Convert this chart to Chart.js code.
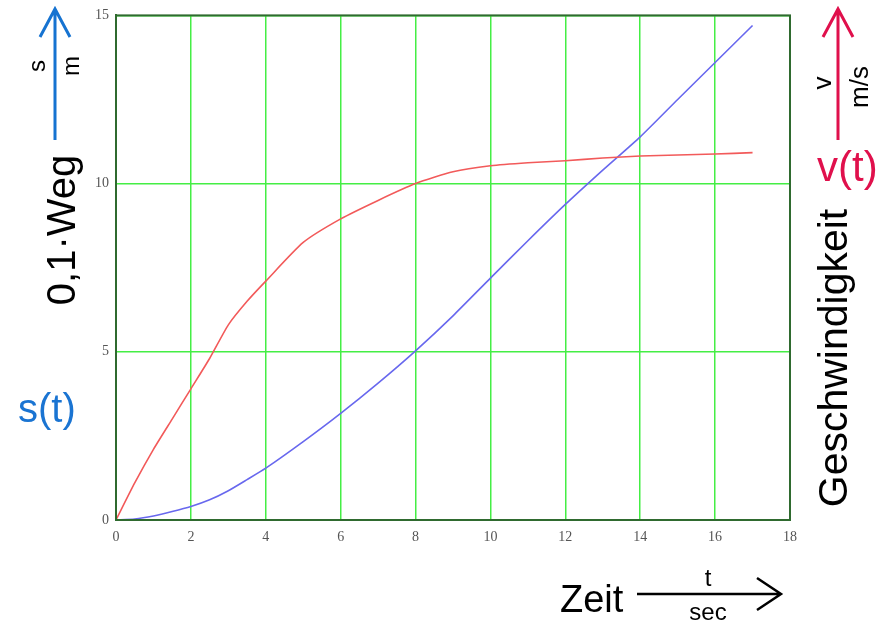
<!DOCTYPE html>
<html>
<head>
<meta charset="utf-8">
<script src="https://cdn.jsdelivr.net/npm/chart.js@4"></script>
<style>
  html, body { margin: 0; padding: 0; background: #fff; }
  #wrap { width: 885px; height: 624px; }
</style>
</head>
<body>
<div id="wrap"><canvas id="chart" width="885" height="624"></canvas></div>
<script>
// time in seconds
const times = [0, 0.5, 1, 1.5, 2, 2.5, 3, 3.5, 4, 5, 6, 7, 8, 9, 10, 11, 12, 13, 14, 15, 16, 17];
// 0,1 * distance s(t)
const weg = [0, 0.03, 0.12, 0.25, 0.4, 0.6, 0.87, 1.2, 1.54, 2.33, 3.17, 4.07, 5.03, 6.07, 7.19, 8.3, 9.38, 10.4, 11.39, 12.5, 13.6, 14.7];
// velocity v(t) in m/s
const speed = [0, 1.1, 2.1, 3.0, 3.9, 4.8, 5.8, 6.5, 7.1, 8.25, 8.95, 9.5, 10.0, 10.35, 10.53, 10.62, 10.68, 10.76, 10.82, 10.85, 10.88, 10.92];

const xTicks = [0, 2, 4, 6, 8, 10, 12, 14, 16, 18];
const yTicks = [0, 5, 10, 15];

const toPoints = vals => times.map((t, i) => ({ x: t, y: vals[i] }));

const sans = '"Liberation Sans", Arial, sans-serif';

// frame + hand drawn axis captions around the plot
const decor = {
    id: 'decor',
    afterDraw(chart) {
        const ctx = chart.ctx;
        const a = chart.chartArea;
        ctx.save();
        ctx.strokeStyle = '#2f6a2f';
        ctx.lineWidth = 2;
        ctx.strokeRect(a.left, a.top, a.right - a.left, a.bottom - a.top);

        const arrowUp = (x, y0, y1, color) => {
            ctx.strokeStyle = color;
            ctx.lineWidth = 3;
            ctx.beginPath();
            ctx.moveTo(x, y0); ctx.lineTo(x, y1);
            ctx.moveTo(x - 15, y1 + 28); ctx.lineTo(x, y1); ctx.lineTo(x + 15, y1 + 28);
            ctx.stroke();
        };
        const vtext = (txt, x, y, font, color) => {
            ctx.save();
            ctx.translate(x, y);
            ctx.rotate(-Math.PI / 2);
            ctx.font = font;
            ctx.fillStyle = color;
            ctx.textAlign = 'center';
            ctx.textBaseline = 'middle';
            ctx.fillText(txt, 0, 0);
            ctx.restore();
        };

        // left side
        arrowUp(55, 140, 9, '#1673d1');
        vtext('s', 38, 66, '24px ' + sans, '#000');
        vtext('m', 72, 66, '24px ' + sans, '#000');
        vtext('0,1\u00b7Weg', 64, 230, '40px ' + sans, '#000');
        ctx.font = '40px ' + sans;
        ctx.fillStyle = '#1a74d2';
        ctx.textAlign = 'left';
        ctx.textBaseline = 'alphabetic';
        ctx.fillText('s(t)', 18, 422);

        // right side
        arrowUp(838, 140, 9, '#e0104c');
        vtext('v', 824, 83, '26px ' + sans, '#000');
        vtext('m/s', 861, 87, '26px ' + sans, '#000');
        ctx.font = '42px ' + sans;
        ctx.fillStyle = '#e0104c';
        ctx.fillText('v(t)', 817, 181);
        vtext('Geschwindigkeit', 836, 358, '41px ' + sans, '#000');

        // bottom
        ctx.font = '38px ' + sans;
        ctx.fillStyle = '#000';
        ctx.fillText('Zeit', 560, 612);
        ctx.strokeStyle = '#000';
        ctx.lineWidth = 2.5;
        ctx.beginPath();
        ctx.moveTo(637, 594); ctx.lineTo(781, 594);
        ctx.moveTo(757, 578); ctx.lineTo(781, 594); ctx.lineTo(757, 610);
        ctx.stroke();
        ctx.font = '24px ' + sans;
        ctx.textAlign = 'center';
        ctx.fillText('t', 708, 586);
        ctx.fillText('sec', 708, 620);
        ctx.restore();
    }
};

const ctx = document.getElementById('chart').getContext('2d');
const chart = new Chart(ctx, {
    type: 'line',
    data: {
        datasets: [
            {
                label: 'v(t)',
                data: toPoints(speed),
                borderColor: '#f25a5a',
                borderWidth: 1.6,
                pointRadius: 0,
                tension: 0.2
            },
            {
                label: 's(t)',
                data: toPoints(weg),
                borderColor: '#6868ee',
                borderWidth: 1.6,
                pointRadius: 0,
                tension: 0.2
            }
        ]
    },
    options: {
        responsive: false,
        animation: false,
        layout: { padding: { left: 0, right: 95, top: 13, bottom: 0 } },
        plugins: {
            legend: { display: false },
            tooltip: { enabled: false }
        },
        scales: {
            x: {
                type: 'linear',
                min: 0,
                max: 18,
                afterFit(axis) { axis.height = 104; },
                afterBuildTicks(axis) { axis.ticks = xTicks.map(v => ({ value: v })); },
                ticks: {
                    color: '#555',
                    padding: 9,
                    font: { family: '"Liberation Serif", "Times New Roman", serif', size: 14 }
                },
                grid: { color: '#44ee44', lineWidth: 1.5, drawTicks: false },
                border: { color: '#2f6a2f', width: 2 }
            },
            y: {
                min: 0,
                max: 15,
                afterFit(axis) { axis.width = 116; },
                afterBuildTicks(axis) { axis.ticks = yTicks.map(v => ({ value: v })); },
                ticks: {
                    color: '#555',
                    padding: 7,
                    font: { family: '"Liberation Serif", "Times New Roman", serif', size: 14 }
                },
                grid: { color: '#44ee44', lineWidth: 1.5, drawTicks: false },
                border: { color: '#2f6a2f', width: 2 }
            }
        }
    },
    plugins: [decor]
});
</script>
</body>
</html>
